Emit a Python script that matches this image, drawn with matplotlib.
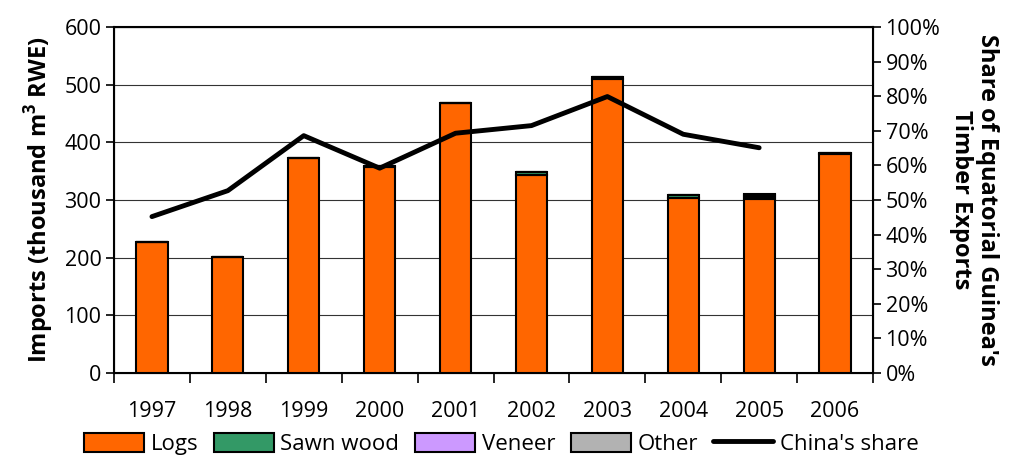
import matplotlib.pyplot as plt
import numpy as np

plt.rcParams['font.family'] = ['Open Sans', 'DejaVu Sans']

# Data
years = ['1997', '1998', '1999', '2000', '2001', '2002', '2003', '2004', '2005', '2006']
logs = [228, 202, 372, 358, 468, 343, 509, 303, 302, 380]
sawn_wood = [0, 0, 0, 1, 0, 5, 5, 5, 3, 2]
veneer = [0, 0, 0, 0, 0, 1, 0, 0, 3, 0]
other = [0, 0, 0, 0, 0, 0, 0, 0, 3, 0]
china_share = [45.2, 52.7, 68.6, 59.2, 69.3, 71.5, 79.9, 69.0, 65.1]

x = np.arange(len(years))
w = 0.41

fig = plt.figure(figsize=(10.21, 4.61), dpi=100)
ax = fig.add_axes([114 / 1021, 1 - 373 / 461, (873 - 114) / 1021, (373 - 27) / 461])

bottom = np.zeros(len(years))
for vals, col, lab in [(logs, '#FF6600', 'Logs'), (sawn_wood, '#339966', 'Sawn wood'),
                       (veneer, '#CC99FF', 'Veneer'), (other, '#B2B2B2', 'Other')]:
    ax.bar(x, vals, w, bottom=bottom, color=col, edgecolor='black', linewidth=1.5, label=lab, zorder=3)
    bottom += np.array(vals)

ax.set_ylim(0, 600)
ax.set_xlim(-0.5, len(years) - 0.5)
ax.set_yticks(range(0, 601, 100))
ax.yaxis.grid(True, color='#333333', linewidth=0.8, zorder=0)
ax.set_xticks(x)
ax.set_xticklabels(years)
ax.set_xticks(np.arange(-0.5, len(years), 1), minor=True)
ax.tick_params(axis='x', which='major', length=0, pad=20, labelsize=15.5)
ax.tick_params(axis='x', which='minor', length=7, width=1.2, direction='out')
ax.tick_params(axis='y', labelsize=15.5, length=6, width=1.2, direction='out', pad=3)
for s in ax.spines.values():
    s.set_linewidth(1.5)
ax.set_ylabel('Imports (thousand m$^\\mathregular{3}$ RWE)', fontsize=17, fontweight='bold', labelpad=6)

ax2 = ax.twinx()
line, = ax2.plot(x[:len(china_share)], china_share, color='black', linewidth=3.5, label="China's share",
                 solid_capstyle='round', zorder=5)
ax2.set_ylim(0, 100)
ax2.set_yticks(range(0, 101, 10))
ax2.set_yticklabels([f'{v}%' for v in range(0, 101, 10)])
ax2.tick_params(axis='y', labelsize=15.5, length=6, width=1.2, direction='out', pad=3)
ax2.set_ylabel("Share of Equatorial Guinea's\nTimber Exports", fontsize=17, fontweight='bold',
               rotation=270, labelpad=42, linespacing=1.1)

handles, labels = ax.get_legend_handles_labels()
handles.append(line)
labels.append(line.get_label())
fig.legend(handles, labels, loc='lower center', bbox_to_anchor=(0.491, -0.03), ncol=5, frameon=False,
           fontsize=16, handlelength=2.7, handleheight=0.95, handletextpad=0.3, columnspacing=0.7)

fig.savefig('out.png', dpi=100)
